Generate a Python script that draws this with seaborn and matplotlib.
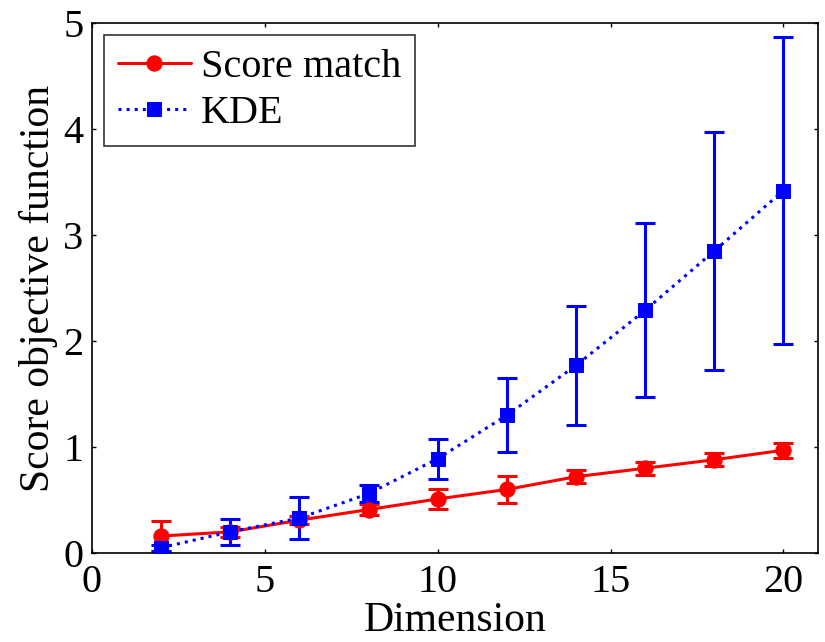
import numpy as np
import pandas as pd
import matplotlib
matplotlib.use("Agg")
import matplotlib.pyplot as plt
import seaborn as sns

dims = [2, 4, 6, 8, 10, 12, 14, 16, 18, 20]
score_mean = [0.16, 0.20, 0.31, 0.41, 0.51, 0.60, 0.72, 0.80, 0.88, 0.97]
score_err = [0.14, 0.05, 0.04, 0.05, 0.09, 0.125, 0.06, 0.06, 0.06, 0.07]
kde_mean = [0.05, 0.20, 0.33, 0.56, 0.89, 1.30, 1.77, 2.29, 2.85, 3.42]
kde_err = [0.03, 0.12, 0.20, 0.08, 0.19, 0.35, 0.56, 0.82, 1.12, 1.45]

df = pd.DataFrame({
    "Dimension": dims * 2,
    "Score": score_mean + kde_mean,
    "Err": score_err + kde_err,
    "Method": ["Score match"] * len(dims) + ["KDE"] * len(dims),
})

sns.set_style("white")
plt.rcParams["font.family"] = ["Liberation Serif", "DejaVu Serif"]
plt.rcParams["text.color"] = "black"
plt.rcParams["axes.labelcolor"] = "black"

fig = plt.figure(figsize=(8.25, 6.42), dpi=100)
ax = fig.add_axes([0.1115, 0.1386, 0.88, 0.8254])

styles = {
    "Score match": dict(color="#ff0000", ls="-", marker="o", ms=11),
    "KDE": dict(color="#0000ff", ls=":", marker="s", ms=10),
}
for name in ["Score match", "KDE"]:
    sub = df[df["Method"] == name]
    st = styles[name]
    ax.errorbar(sub["Dimension"], sub["Score"], yerr=sub["Err"], fmt="none",
                ecolor=st["color"], elinewidth=2.2, capsize=7, capthick=2.2, zorder=2)
    sns.lineplot(data=sub, x="Dimension", y="Score", ax=ax, color=st["color"],
                 linestyle=st["ls"], marker=st["marker"], markersize=st["ms"],
                 markeredgecolor=st["color"], linewidth=2.2, label=name, zorder=3)

ax.set_xlim(0, 21)
ax.set_ylim(0, 5)
ax.set_xticks([0, 5, 10, 15, 20])
ax.set_yticks([0, 1, 2, 3, 4, 5])
ax.tick_params(direction="in", length=3, width=1, labelsize=29, top=True, right=True,
               bottom=True, left=True, colors="black", labelcolor="black")
ax.tick_params(axis="x", pad=8)
ax.tick_params(axis="y", pad=6)
for s in ax.spines.values():
    s.set_color("black")
    s.set_linewidth(1.2)
ax.set_xlabel("Dimension", fontsize=30, labelpad=0, color="black")
ax.set_ylabel("Score objective function", fontsize=30, labelpad=4, color="black")

leg = ax.legend(loc="upper left", fontsize=29, frameon=True, fancybox=False,
                edgecolor="black", borderaxespad=0.3, handlelength=1.8,
                handletextpad=0.25, borderpad=0.35, labelspacing=0.2,
                labelcolor="black")
leg.get_frame().set_linewidth(1.2)

fig.savefig("out.png", dpi=100)
